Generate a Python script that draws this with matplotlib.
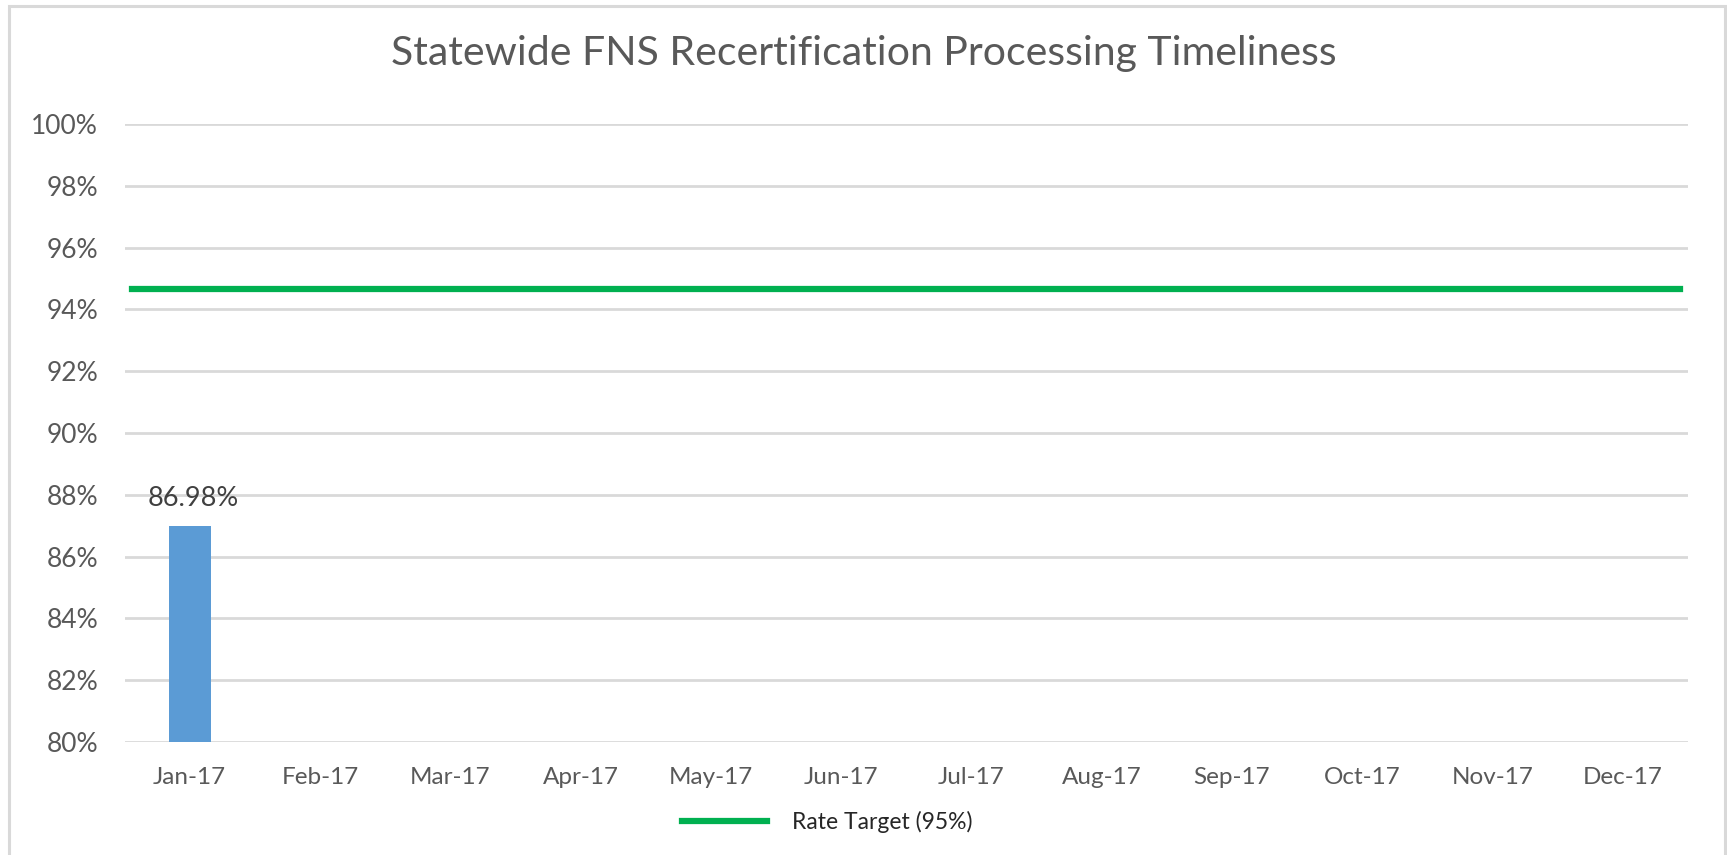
import matplotlib
matplotlib.use("Agg")
import matplotlib.pyplot as plt
from matplotlib.patches import Rectangle
from matplotlib.lines import Line2D
from matplotlib.ticker import FuncFormatter

plt.rcParams.update({
    "font.family": ["Lato", "DejaVu Sans"],
    "figure.dpi": 100,
})

TEXT = "#595959"
GRID = "#d9d9d9"
BAR = "#5b9bd5"
GREEN = "#00b050"

months = ["Jan-17", "Feb-17", "Mar-17", "Apr-17", "May-17", "Jun-17",
          "Jul-17", "Aug-17", "Sep-17", "Oct-17", "Nov-17", "Dec-17"]
rates = [86.98]          # only January reported so far
target = 94.65           # drawn level of the "95%" target line
target_label = "Rate Target (95%)"
yticks = [80, 82, 84, 86, 88, 90, 92, 94, 96, 98, 100]

fig = plt.figure(figsize=(17.27, 8.55))
ax = fig.add_axes([0.0721, 0.1322, 0.9053, 0.7228])

# outer chart border (open at the bottom, like the cropped source)
fig.patches.append(Rectangle((9 / 1727, -0.02), (1725 - 9) / 1727, 1.02 - 6 / 855,
                             transform=fig.transFigure, fill=False,
                             edgecolor=GRID, lw=2.2))

x = list(range(len(months)))
ax.bar(x[:len(rates)], [r - 80 for r in rates], bottom=80, width=0.32,
       color=BAR, zorder=3)
for xi, r in zip(x, rates):
    ax.text(xi + 0.03, r + 0.5, f"{r:.2f}%", ha="center", va="bottom",
            fontsize=19.5, color="#404040", zorder=4)

ax.axhline(target, xmin=0.005, xmax=0.995, color=GREEN, lw=4.5, zorder=4)

ax.set_xlim(-0.5, len(months) - 0.5)
ax.set_ylim(80, 100)
ax.set_xticks(x)
ax.set_xticklabels(months)
ax.set_yticks(yticks)
ax.yaxis.set_major_formatter(FuncFormatter(lambda v, p: f"{v:.0f}%"))
ax.tick_params(axis="both", length=0, colors=TEXT)
ax.tick_params(axis="y", pad=19, labelsize=19)
ax.tick_params(axis="x", pad=18, labelsize=17.5)
ax.grid(axis="y", color=GRID, lw=2, zorder=0)
ax.grid(axis="x", visible=False)
for s in ax.spines.values():
    s.set_visible(False)

fig.text(0.5, 1 - 54 / 855, "Statewide FNS Recertification Processing Timeliness",
         ha="center", va="center", fontsize=29.5, color=TEXT)

handle = Line2D([], [], color=GREEN, lw=4.5)
fig.legend([handle], [target_label], loc="center",
           bbox_to_anchor=(0.479, 1 - 822 / 855), frameon=False,
           fontsize=16.5, handlelength=3.7, handletextpad=1.1,
           labelcolor="#262626")

fig.savefig("out.png", dpi=100, facecolor="white")
